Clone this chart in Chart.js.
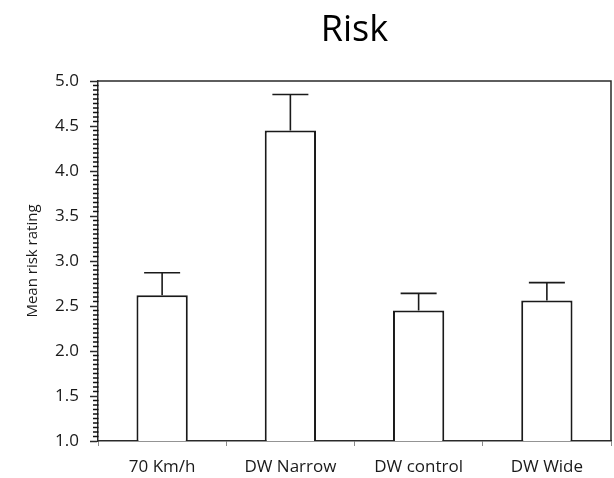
<!DOCTYPE html>
<html>
<head>
<meta charset="utf-8">
<title>Risk</title>
<script src="https://cdn.jsdelivr.net/npm/chart.js@4/dist/chart.umd.min.js"></script>
<style>
  html, body { margin: 0; padding: 0; background: #ffffff; }
  #wrap { width: 614px; height: 478px; }
</style>
</head>
<body>
<div id="wrap"><canvas id="chart" width="614" height="478"></canvas></div>
<script>
// Conditions and mean risk ratings with their error (upper whisker length)
const categories = ['70 Km/h', 'DW Narrow', 'DW control', 'DW Wide'];
const meanRisk = [2.62, 4.45, 2.45, 2.56];
const riskError = [0.25, 0.40, 0.19, 0.20];

// Value axis range and tick spacing
const yMin = 1.0;
const yMax = 5.0;
const yMajorStep = 0.5;
const yMinorStep = 0.05;

const FONT = '"Open Sans", "Noto Sans", sans-serif';
const INK = '#1a1a1a';
const AXIS = '#2a2a2a';

// Minor ticks on the value axis, upward error bars, and the top/right frame edges
const errorBarsAndFrame = {
  id: 'errorBarsAndFrame',
  afterDraw(chart) {
    const { ctx, chartArea: a, scales } = chart;
    const y = scales.y;
    const meta = chart.getDatasetMeta(0);
    ctx.save();

    // minor ticks between the labelled ones
    const perMajor = Math.round(yMajorStep / yMinorStep);
    const count = Math.round((yMax - yMin) / yMinorStep);
    ctx.strokeStyle = '#111111';
    ctx.lineWidth = 1.5;
    for (let k = 0; k <= count; k++) {
      if (k % perMajor === 0) continue;
      const py = y.getPixelForValue(yMin + k * yMinorStep);
      ctx.beginPath();
      ctx.moveTo(a.left - 5, py);
      ctx.lineTo(a.left + 0.5, py);
      ctx.stroke();
    }

    // error bars
    ctx.strokeStyle = INK;
    ctx.lineWidth = 1.6;
    meta.data.forEach((bar, i) => {
      const yBase = y.getPixelForValue(meanRisk[i]);
      const yTop = y.getPixelForValue(meanRisk[i] + riskError[i]);
      ctx.beginPath();
      ctx.moveTo(bar.x, yBase);
      ctx.lineTo(bar.x, yTop);
      ctx.moveTo(bar.x - 18, yTop);
      ctx.lineTo(bar.x + 18, yTop);
      ctx.stroke();
    });

    // top and right edges of the plot frame
    ctx.strokeStyle = AXIS;
    ctx.lineWidth = 1.5;
    ctx.beginPath();
    ctx.moveTo(a.left, a.top);
    ctx.lineTo(a.right, a.top);
    ctx.lineTo(a.right, a.bottom);
    ctx.stroke();
    ctx.restore();
  }
};

new Chart(document.getElementById('chart'), {
  type: 'bar',
  data: {
    labels: categories,
    datasets: [{
      data: meanRisk,
      backgroundColor: '#ffffff',
      borderColor: INK,
      borderWidth: 2,
      borderSkipped: false,
      categoryPercentage: 1.0,
      barPercentage: 0.4
    }]
  },
  options: {
    responsive: false,
    animation: false,
    events: [],
    layout: { padding: { left: 0, right: 3, top: 0, bottom: 0 } },
    plugins: {
      legend: { display: false },
      tooltip: { enabled: false },
      title: {
        display: true,
        fullSize: false,
        text: 'Risk',
        color: '#000000',
        font: { family: FONT, size: 36, weight: 'normal', lineHeight: 1.2 },
        padding: { top: 9, bottom: 28.8 }
      }
    },
    scales: {
      x: {
        offset: true,
        grid: {
          offset: true,
          drawOnChartArea: false,
          drawTicks: true,
          tickLength: 5,
          tickColor: '#8a8a8a',
          tickWidth: 1
        },
        border: { display: true, color: AXIS, width: 1.5 },
        ticks: {
          color: INK,
          padding: 11,
          font: { family: FONT, size: 17 }
        },
        afterFit(scale) { scale.height = 37; }
      },
      y: {
        position: 'left',
        min: yMin,
        max: yMax,
        grid: {
          drawOnChartArea: false,
          tickLength: 8,
          tickColor: AXIS,
          tickWidth: 1.5
        },
        border: { display: true, color: AXIS, width: 1.5 },
        ticks: {
          stepSize: yMajorStep,
          color: INK,
          padding: 11,
          font: { family: FONT, size: 17 },
          callback: (v) => Number(v).toFixed(1)
        },
        title: {
          display: true,
          text: 'Mean risk rating',
          color: INK,
          font: { family: FONT, size: 15 },
          padding: { top: 24, bottom: 0 }
        },
        afterFit(scale) { scale.width = 98; }
      }
    }
  },
  plugins: [errorBarsAndFrame]
});
</script>
</body>
</html>
